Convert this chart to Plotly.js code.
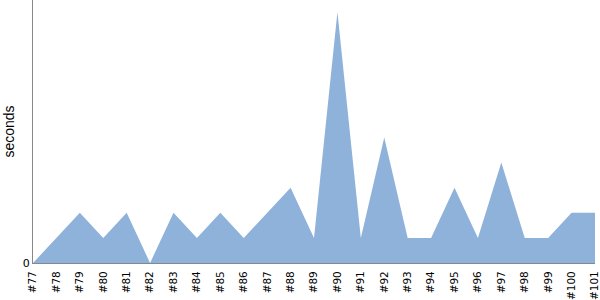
<!DOCTYPE html>
<html><head><meta charset="utf-8">
<script src="https://cdn.plot.ly/plotly-3.0.1.min.js"></script>
<style>body{margin:0;padding:0;}#chart{width:600px;height:300px;}</style>
</head><body><div id="chart"></div>
<script>
const categories = ["#77","#78","#79","#80","#81","#82","#83","#84","#85","#86","#87","#88","#89","#90","#91","#92","#93","#94","#95","#96","#97","#98","#99","#100","#101"];
const seconds = [0,1,2,1,2,0,2,1,2,1,2,3,1,10,1,5,1,1,3,1,4,1,1,2,2];

Plotly.newPlot('chart', [{
  x: categories, y: seconds, type: 'scatter', mode: 'lines',
  fill: 'tozeroy', fillcolor: 'rgb(143,178,219)',
  line: {width: 0, color: 'rgb(143,178,219)'}, hoverinfo: 'none'
}], {
  width: 600, height: 300,
  margin: {l: 33, r: 5, t: 0, b: 37, pad: 0},
  paper_bgcolor: 'white', plot_bgcolor: 'white',
  showlegend: false,
  font: {family: 'DejaVu Sans', size: 10, color: '#000'},
  xaxis: {type: 'category', range: [0, 24], tickangle: -90, showgrid: false, zeroline: false,
    showline: true, linecolor: '#888', linewidth: 1, ticks: '', tickfont: {family: 'DejaVu Sans', size: 10.5},
    ticklabelstandoff: 3, automargin: false},
  yaxis: {range: [0, 10.48], tickvals: [0], ticktext: ['0'], showgrid: false, zeroline: false,
    showline: true, linecolor: '#888', linewidth: 1, ticks: '', tickfont: {family: 'DejaVu Sans', size: 11},
    title: {text: 'seconds', font: {family: 'Liberation Sans', size: 14}, standoff: 4}, automargin: false}
}, {displayModeBar: false, staticPlot: true});
</script></body></html>
